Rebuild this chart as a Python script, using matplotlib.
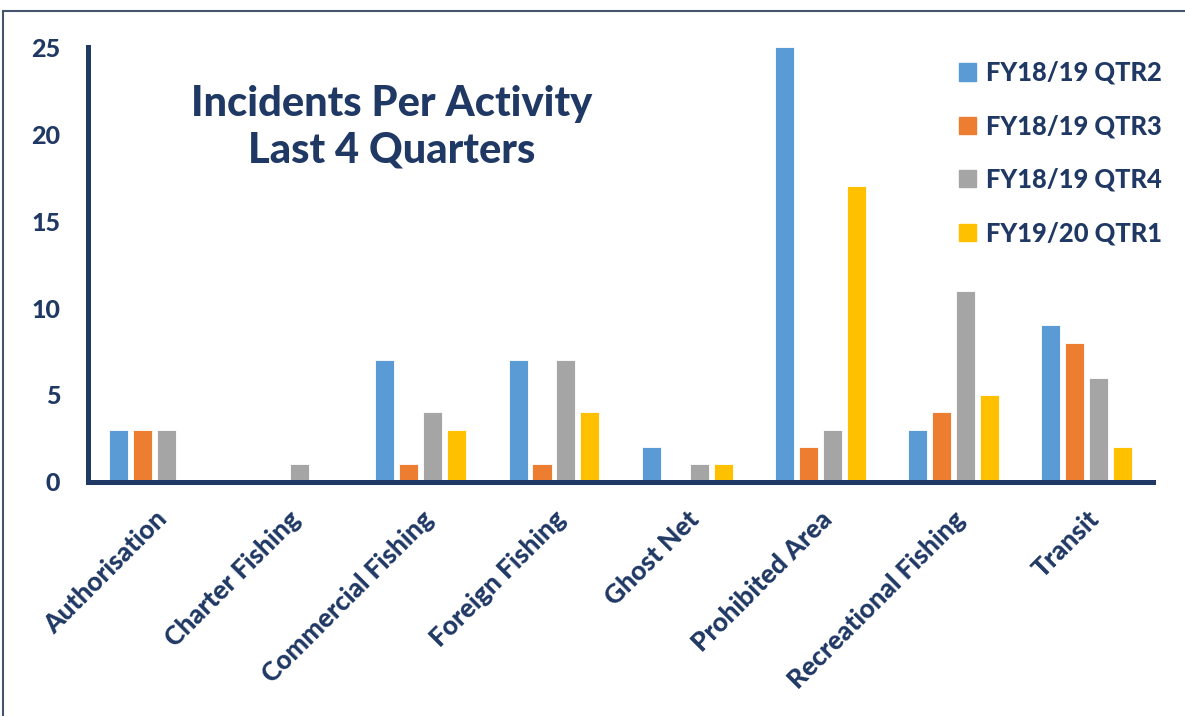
import matplotlib.pyplot as plt
import matplotlib.patches as mpatches
import numpy as np

activities = ["Authorisation", "Charter Fishing", "Commercial Fishing", "Foreign Fishing",
              "Ghost Net", "Prohibited Area", "Recreational Fishing", "Transit"]
quarters = ["FY18/19 QTR2", "FY18/19 QTR3", "FY18/19 QTR4", "FY19/20 QTR1"]
qtr2 = [3, 0, 7, 7, 2, 25, 3, 9]
qtr3 = [3, 0, 1, 1, 0, 2, 4, 8]
qtr4 = [3, 1, 4, 7, 1, 3, 11, 6]
qtr1_next = [0, 0, 3, 4, 1, 17, 5, 2]
yticks = [0, 5, 10, 15, 20, 25]

colors = ["#5B9BD5", "#ED7D31", "#A5A5A5", "#FFC000"]
navy = "#1F3864"
weight = 900

plt.rcParams["font.family"] = ["Lato", "DejaVu Sans"]

fig = plt.figure(figsize=(11.85, 7.16), dpi=100)
ax = fig.add_axes([0.0743, 0.327, 0.8987, 0.607])

x = np.arange(len(activities))
width = 0.143
step = 0.18
series = [qtr2, qtr3, qtr4, qtr1_next]
for i, (vals, col, lab) in enumerate(zip(series, colors, quarters)):
    ax.bar(x + (i - 1.5) * step, vals, width, color=col, label=lab,
           edgecolor="white", linewidth=0.6)

ax.set_xlim(-0.5, len(activities) - 0.5)
ax.set_ylim(0, 25)
ax.set_yticks(yticks)
ax.set_yticklabels([str(t) for t in yticks], fontsize=18, fontweight=weight, color=navy)
ax.set_xticks(x)
ax.set_xticklabels(activities, rotation=45, ha="right", rotation_mode="anchor",
                   fontsize=19, fontweight=weight, color=navy)
ax.tick_params(axis="both", length=0)
ax.tick_params(axis="y", pad=20)
ax.tick_params(axis="x", pad=18)

for side in ["top", "right"]:
    ax.spines[side].set_visible(False)
for side in ["left", "bottom"]:
    ax.spines[side].set_color(navy)
    ax.spines[side].set_linewidth(3.6)

ax.text(0.285, 0.816, "Incidents Per Activity\nLast 4 Quarters", transform=ax.transAxes,
        ha="center", va="center", fontsize=30, fontweight=weight, color=navy,
        linespacing=1.3)

handles = [mpatches.Patch(color=c, label=l) for c, l in zip(colors, quarters)]
leg = fig.legend(handles=handles, loc="upper left", bbox_to_anchor=(0.790, 0.947),
                 frameon=False, fontsize=18.4, labelspacing=1.15, handlelength=0.66,
                 handleheight=0.66, handletextpad=0.4)
for t in leg.get_texts():
    t.set_color(navy)
    t.set_fontweight(weight)

# outer frame around the chart
frame = mpatches.Rectangle((3 / 1185, -0.05), 1.2, 1 - 11 / 716 + 0.05,
                           transform=fig.transFigure, fill=False,
                           edgecolor="#44546A", linewidth=1.5)
fig.patches.append(frame)

fig.savefig("out.png", dpi=100)
